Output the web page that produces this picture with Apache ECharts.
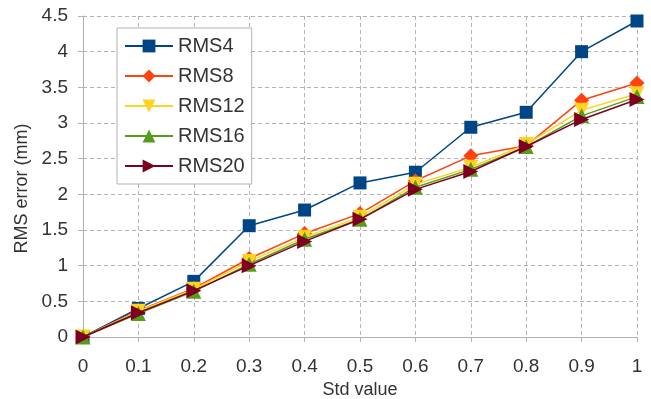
<!DOCTYPE html>
<html><head><meta charset="utf-8">
<script src="https://cdn.jsdelivr.net/npm/echarts@6/dist/echarts.min.js"></script>
<style>html,body{margin:0;padding:0;background:#fff}#c{width:651px;height:399px}</style>
</head><body><div id="c"></div>
<script>
const stdValues = [0, 0.1, 0.2, 0.3, 0.4, 0.5, 0.6, 0.7, 0.8, 0.9, 1.0];
const rms4  = [0, 0.40, 0.78, 1.56, 1.78, 2.16, 2.31, 2.94, 3.15, 4.00, 4.43];
const rms8  = [0, 0.37, 0.68, 1.10, 1.45, 1.73, 2.19, 2.54, 2.68, 3.32, 3.56];
const rms12 = [0, 0.36, 0.67, 1.06, 1.40, 1.68, 2.14, 2.38, 2.70, 3.18, 3.41];
const rms16 = [0, 0.33, 0.64, 1.02, 1.37, 1.65, 2.10, 2.35, 2.67, 3.10, 3.37];
const rms20 = [0, 0.34, 0.65, 1.00, 1.34, 1.65, 2.07, 2.32, 2.67, 3.05, 3.33];
const seriesNames = ['RMS4', 'RMS8', 'RMS12', 'RMS16', 'RMS20'];
const seriesValues = [rms4, rms8, rms12, rms16, rms20];
const colors = ['#004586', '#ff420e', '#ffd320', '#579d1c', '#7e0021'];
const symbols = ['rect', 'diamond', 'triangle', 'triangle', 'triangle'];
const rotations = [0, 0, 180, 0, -90];
const sizes = [13, 15, 15, 15, 15];

const font = 'Liberation Sans';
const chart = echarts.init(document.getElementById('c'), null, {renderer: 'canvas'});
const fmt = v => String(parseFloat(v.toFixed(2)));
chart.setOption({
  animation: false,
  textStyle: {fontFamily: font},
  grid: {left: 83, right: 14, top: 16, bottom: 62, containLabel: false, outerBoundsMode: 'none'},
  legend: {
    orient: 'vertical', left: 117, top: 28,
    backgroundColor: '#fff', borderColor: '#b3b3b3', borderWidth: 1,
    padding: [8, 7, 8, 7], itemGap: 10, itemWidth: 48, itemHeight: 16,
    textStyle: {fontFamily: font, fontSize: 20, color: '#333'},
    data: seriesNames
  },
  xAxis: {
    type: 'value', min: 0, max: 1, interval: 0.1,
    name: 'Std value', nameLocation: 'middle', nameGap: 41,
    nameTextStyle: {fontFamily: font, fontSize: 18, color: '#333'},
    axisLine: {show: true, lineStyle: {color: '#b3b3b3', width: 1}},
    axisTick: {show: true, length: 5, lineStyle: {color: '#b3b3b3'}},
    axisLabel: {fontFamily: font, fontSize: 19, color: '#333', margin: 20, formatter: fmt},
    splitLine: {show: true, lineStyle: {color: '#b3b3b3', type: [4, 3], width: 1}}
  },
  yAxis: {
    type: 'value', min: 0, max: 4.5, interval: 0.5,
    name: 'RMS error (mm)', nameLocation: 'middle', nameGap: 50,
    nameTextStyle: {fontFamily: font, fontSize: 18, color: '#333', padding: [0, 24, 0, 0]},
    axisLine: {show: true, lineStyle: {color: '#b3b3b3', width: 1}},
    axisTick: {show: true, length: 5, lineStyle: {color: '#b3b3b3'}},
    axisLabel: {fontFamily: font, fontSize: 19, color: '#333', margin: 15, formatter: fmt},
    splitLine: {show: true, lineStyle: {color: '#b3b3b3', type: [4, 3], width: 1}}
  },
  series: seriesNames.map((n, i) => ({
    name: n, type: 'line',
    data: stdValues.map((x, j) => [x, seriesValues[i][j]]),
    symbol: symbols[i], symbolSize: sizes[i], symbolRotate: rotations[i],
    showAllSymbol: true,
    lineStyle: {color: colors[i], width: 1.5},
    itemStyle: {color: colors[i]},
    z: 2 + i
  }))
});
</script></body></html>
